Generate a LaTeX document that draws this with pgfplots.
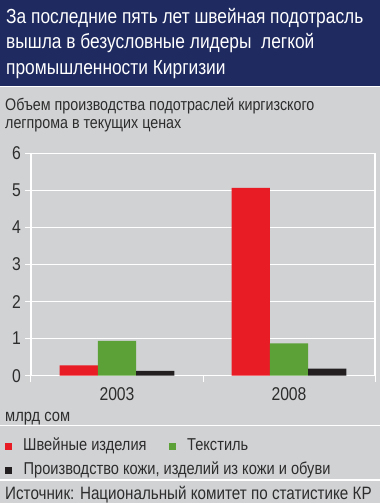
\documentclass[border=0pt]{standalone}
\usepackage{fontspec}
\setmainfont{Liberation Sans}[FakeStretch=0.85]
\usepackage{pgfplots}
\pgfplotsset{compat=1.18}
\definecolor{navy}{RGB}{31,42,96}
\definecolor{bg}{RGB}{209,210,212}
\definecolor{cred}{RGB}{232,28,36}
\definecolor{cgreen}{RGB}{92,160,56}
\definecolor{cblack}{RGB}{35,31,32}
\definecolor{txt}{RGB}{45,45,45}
\pgfplotsset{sq/.style={legend image code/.code={\path[draw=none,fill=none] (0pt,-3.5pt) rectangle (18pt,3.5pt); \fill[##1, draw=none] (0pt,-3.5pt) rectangle (7pt,3.5pt);}}}
\begin{document}
\begin{tikzpicture}
\useasboundingbox (0pt,0pt) rectangle (380pt,503pt);
\fill[bg] (0pt,0pt) rectangle (380pt,503pt);
\fill[navy] (0pt,417pt) rectangle (380pt,503pt);
\draw[white, line width=1pt] (0pt,416.5pt) -- (380pt,416.5pt);
\draw[white, line width=1.2pt] (0pt,77.5pt) -- (380pt,77.5pt);
\draw[white, line width=1.2pt] (0pt,23pt) -- (380pt,23pt);
\begin{scope}[every node/.style={anchor=base west, inner sep=0pt}]
\node[text=white, font=\fontsize{20.4}{24}\selectfont] at (6pt,479.5pt) {За последние пять лет швейная подотрасль};
\node[text=white, font=\fontsize{20.4}{24}\selectfont] at (6pt,454pt) {вышла в безусловные лидеры\ \ легкой};
\node[text=white, font=\fontsize{20.4}{24}\selectfont] at (6pt,428.5pt) {промышленности Киргизии};
\node[text=txt, font=\fontsize{16.8}{20}\selectfont] at (5pt,392.5pt) {Объем производства подотраслей киргизского};
\node[text=txt, font=\fontsize{16.8}{20}\selectfont] at (5pt,374pt) {легпрома в текущих ценах};
\node[text=txt, font=\fontsize{17.3}{20}\selectfont] at (5pt,81pt) {млрд сом};
\node[text=txt, font=\fontsize{17.9}{20}\selectfont] at (5pt,4pt) {Источник: Национальный комитет по статистике КР};
\end{scope}
\begin{axis}[
  at={(31pt,127.3pt)}, anchor=south west,
  scale only axis, width=344pt, height=222.4pt,
  xmin=-0.5, xmax=1.5, ymin=0, ymax=6,
  ybar=0pt, bar width=38.3pt,
  axis line style={white, line width=1.2pt},
  ymajorgrids, grid style={white, line width=1pt},
  ytick={0,1,2,3,4,5,6},
  xtick={-0.5,0.5,1.5},
  x tick label as interval,
  xticklabels={2003,2008},
  tick style={white, line width=1pt},
  major tick length=6pt,
  tick align=outside, tick pos=left,
  /pgf/number format/assume math mode=true,
  ticklabel style={text=txt, font=\fontsize{18.5}{20}\selectfont},
  yticklabel style={inner sep=0pt, xshift=-4pt},
  xticklabel style={inner sep=0pt, yshift=-6pt},
  legend columns=2,
  legend cell align=left,
  legend style={at={(axis description cs:-0.0756,-0.2823)}, anchor=north west,
    draw=none, fill=none, inner sep=0pt, row sep=8pt, column sep=0pt,
    nodes={inner sep=0pt, text=txt, font=\fontsize{17.2}{20}\selectfont, text height=12pt, text depth=4pt}},
]
\addplot[fill=cred, draw=none, sq] coordinates {(0,0.28) (1,5.07)};
\addlegendentry{\makebox[146pt][l]{Швейные изделия}}
\addplot[fill=cgreen, draw=none, sq] coordinates {(0,0.94) (1,0.87)};
\addlegendentry{Текстиль}
\addplot[fill=cblack, draw=none, sq] coordinates {(0,0.13) (1,0.19)};
\addlegendentry{\makebox[0pt][l]{Производство кожи, изделий из кожи и обуви}}
\end{axis}
\end{tikzpicture}
\end{document}
